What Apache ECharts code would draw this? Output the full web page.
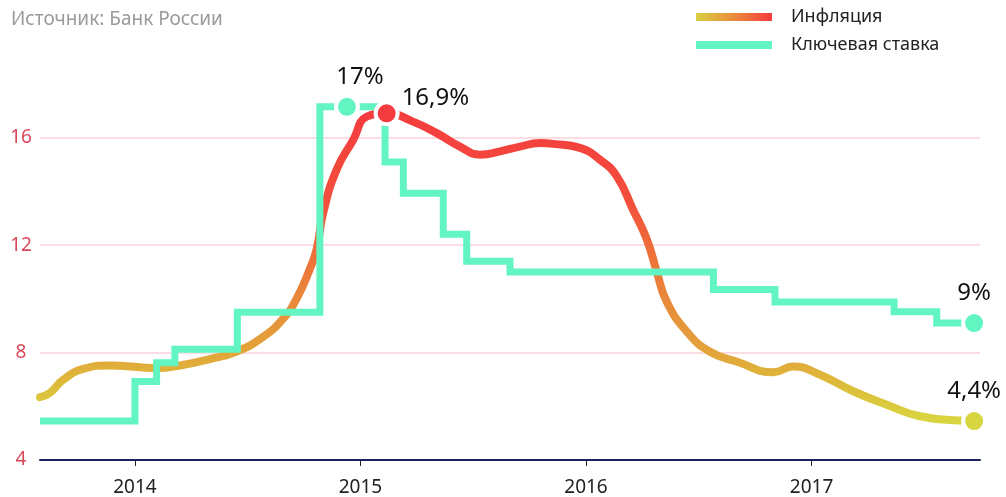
<!DOCTYPE html>
<html>
<head>
<meta charset="utf-8">
<title>Инфляция и ключевая ставка</title>
<script src="https://cdn.jsdelivr.net/npm/echarts@6.0.0/dist/echarts.min.js"></script>
<style>
    html, body { margin: 0; padding: 0; background: #fff; }
    #chart { width: 1006px; height: 497px; }
</style>
</head>
<body>
<div id="chart"></div>
<script>
// годы на оси X (дробная часть - доля года)
var yearTicks = [2014, 2015, 2016, 2017];

// инфляция, % г/г
var inflDates = [2013.579, 2013.623, 2013.682, 2013.771, 2013.889, 2014.022, 2014.096, 2014.200,
    2014.333, 2014.451, 2014.569, 2014.658, 2014.717, 2014.776, 2014.806, 2014.835, 2014.894,
    2014.968, 2015.027, 2015.116, 2015.233, 2015.338, 2015.441, 2015.530, 2015.619, 2015.707,
    2015.796, 2015.854, 2015.973, 2016.062, 2016.136, 2016.208, 2016.269, 2016.313, 2016.358,
    2016.447, 2016.548, 2016.667, 2016.831, 2016.919, 2017.023, 2017.185, 2017.333, 2017.481,
    2017.659, 2017.721];
var inflValues = [6.34, 6.50, 6.99, 7.39, 7.52, 7.45, 7.42, 7.52,
    7.76, 8.04, 8.59, 9.27, 10.01, 11.12, 11.86, 13.21, 14.81,
    15.92, 16.78, 16.91, 16.60, 16.17, 15.67, 15.37, 15.49, 15.67,
    15.80, 15.77, 15.62, 15.18, 14.57, 13.33, 12.23, 11.04, 9.89,
    8.78, 8.04, 7.67, 7.27, 7.48, 7.23, 6.56, 6.06, 5.63,
    5.47, 5.45];

// ключевая ставка, % (значение действует с указанной даты)
var rateDates = [2013.579, 2014.000, 2014.096, 2014.177, 2014.454, 2014.820, 2015.109, 2015.190,
    2015.367, 2015.471, 2015.663, 2016.565, 2016.838, 2017.366, 2017.555, 2017.721];
var rateValues = [5.45, 6.92, 7.62, 8.12, 9.50, 17.15, 15.10, 13.93,
    12.41, 11.40, 11.00, 10.35, 9.88, 9.52, 9.10, 9.10];

// подписанные точки
var rateMarkDates = [2014.94, 2017.721];
var rateMarkValues = [17.15, 9.10];
var rateMarkLabels = ['17%', '9%'];
var inflMarkDates = [2015.116, 2017.721];
var inflMarkValues = [16.91, 5.45];
var inflMarkLabels = ['16,9%', '4,4%'];

function pairs(xs, ys, names) {
    var out = [];
    for (var i = 0; i < xs.length; i++) {
        var p = {value: [xs[i], ys[i]]};
        if (names) p.name = names[i];
        out.push(p);
    }
    return out;
}

var TEAL = '#62f5c2';
var RED = '#f43b3e';
var YELLOW = '#d8d640';
var FONT = '"Noto Sans", Roboto, sans-serif';

var inflGradient = new echarts.graphic.LinearGradient(0, 0, 0, 1, [
    {offset: 0, color: '#f43b3e'},
    {offset: 0.3, color: '#f3503c'},
    {offset: 0.45, color: '#ee6e3a'},
    {offset: 0.6, color: '#e8883a'},
    {offset: 0.78, color: '#e2a63a'},
    {offset: 0.87, color: '#ddbb3a'},
    {offset: 1, color: '#d8d840'}
]);
var legendGradient = new echarts.graphic.LinearGradient(0, 0, 1, 0, [
    {offset: 0, color: '#d8d040'},
    {offset: 0.5, color: '#ea8c3a'},
    {offset: 1, color: '#f43b3e'}
]);

var myChart = echarts.init(document.getElementById('chart'));

// подписи у точек
var inflMarks = pairs(inflMarkDates, inflMarkValues, inflMarkLabels);
inflMarks[0].itemStyle = {color: RED};
inflMarks[0].label = {position: 'right', distance: 2, offset: [0, -15]};
inflMarks[1].itemStyle = {color: YELLOW};
var rateMarks = pairs(rateMarkDates, rateMarkValues, rateMarkLabels);
rateMarks[0].label = {offset: [13, 0]};

var markLabel = {
    show: true,
    position: 'top',
    distance: 5,
    formatter: '{b}',
    color: '#111',
    fontSize: 24,
    fontFamily: FONT
};

var option = {
    animation: false,
    textStyle: {fontFamily: FONT},
    title: {
        text: 'Источник: Банк России',
        left: 6,
        top: 5,
        textStyle: {color: '#9a9a9a', fontSize: 19, fontWeight: 'normal', fontFamily: FONT}
    },
    legend: {
        left: 696,
        top: 8,
        padding: 0,
        orient: 'vertical',
        itemWidth: 76,
        itemHeight: 8,
        itemGap: 10,
        textStyle: {color: '#222', fontSize: 18, padding: [0, 0, 0, 14], fontFamily: FONT},
        data: [
            {name: 'Инфляция', icon: 'rect', itemStyle: {color: legendGradient}},
            {name: 'Ключевая ставка', icon: 'rect', itemStyle: {color: TEAL}}
        ]
    },
    grid: {left: 40, right: 26, top: 84, bottom: 35},
    xAxis: {
        type: 'value',
        min: 2013.579,
        max: 2017.747,
        splitLine: {show: false},
        axisLine: {show: true, onZero: false, lineStyle: {color: '#1d2060', width: 2}},
        axisTick: {show: true, length: 6, customValues: yearTicks, lineStyle: {color: '#222'}},
        axisLabel: {
            customValues: yearTicks,
            color: '#222',
            fontSize: 19,
            margin: 18,
            fontFamily: FONT,
            formatter: function (v) { return String(Math.round(v)); }
        }
    },
    yAxis: {
        type: 'value',
        min: 4,
        max: 18,
        interval: 4,
        axisLine: {show: false},
        axisTick: {show: false},
        axisLabel: {
            color: '#d9485a',
            fontSize: 19,
            align: 'center',
            margin: 19,
            showMaxLabel: false,
            fontFamily: FONT
        },
        splitLine: {showMaxLine: false, lineStyle: {color: '#fbd3d8', width: 1.5}}
    },
    series: [
        {
            name: 'Инфляция',
            type: 'line',
            smooth: 0.5,
            showSymbol: false,
            data: pairs(inflDates, inflValues),
            lineStyle: {width: 8, color: inflGradient, cap: 'round'},
            itemStyle: {color: RED},
            z: 2
        },
        {
            name: 'Ключевая ставка',
            type: 'line',
            step: 'end',
            showSymbol: false,
            data: pairs(rateDates, rateValues),
            lineStyle: {width: 7, color: TEAL, join: 'miter', cap: 'butt'},
            itemStyle: {color: TEAL},
            z: 3
        },
        {
            name: 'rateMarks',
            type: 'scatter',
            symbolSize: 22,
            data: rateMarks,
            itemStyle: {color: TEAL, borderColor: '#fff', borderWidth: 4, opacity: 1},
            label: markLabel,
            z: 4
        },
        {
            name: 'inflMarks',
            type: 'scatter',
            symbolSize: 22,
            data: inflMarks,
            itemStyle: {borderColor: '#fff', borderWidth: 4, opacity: 1},
            label: markLabel,
            z: 5
        }
    ]
};

myChart.setOption(option);
</script>
</body>
</html>
